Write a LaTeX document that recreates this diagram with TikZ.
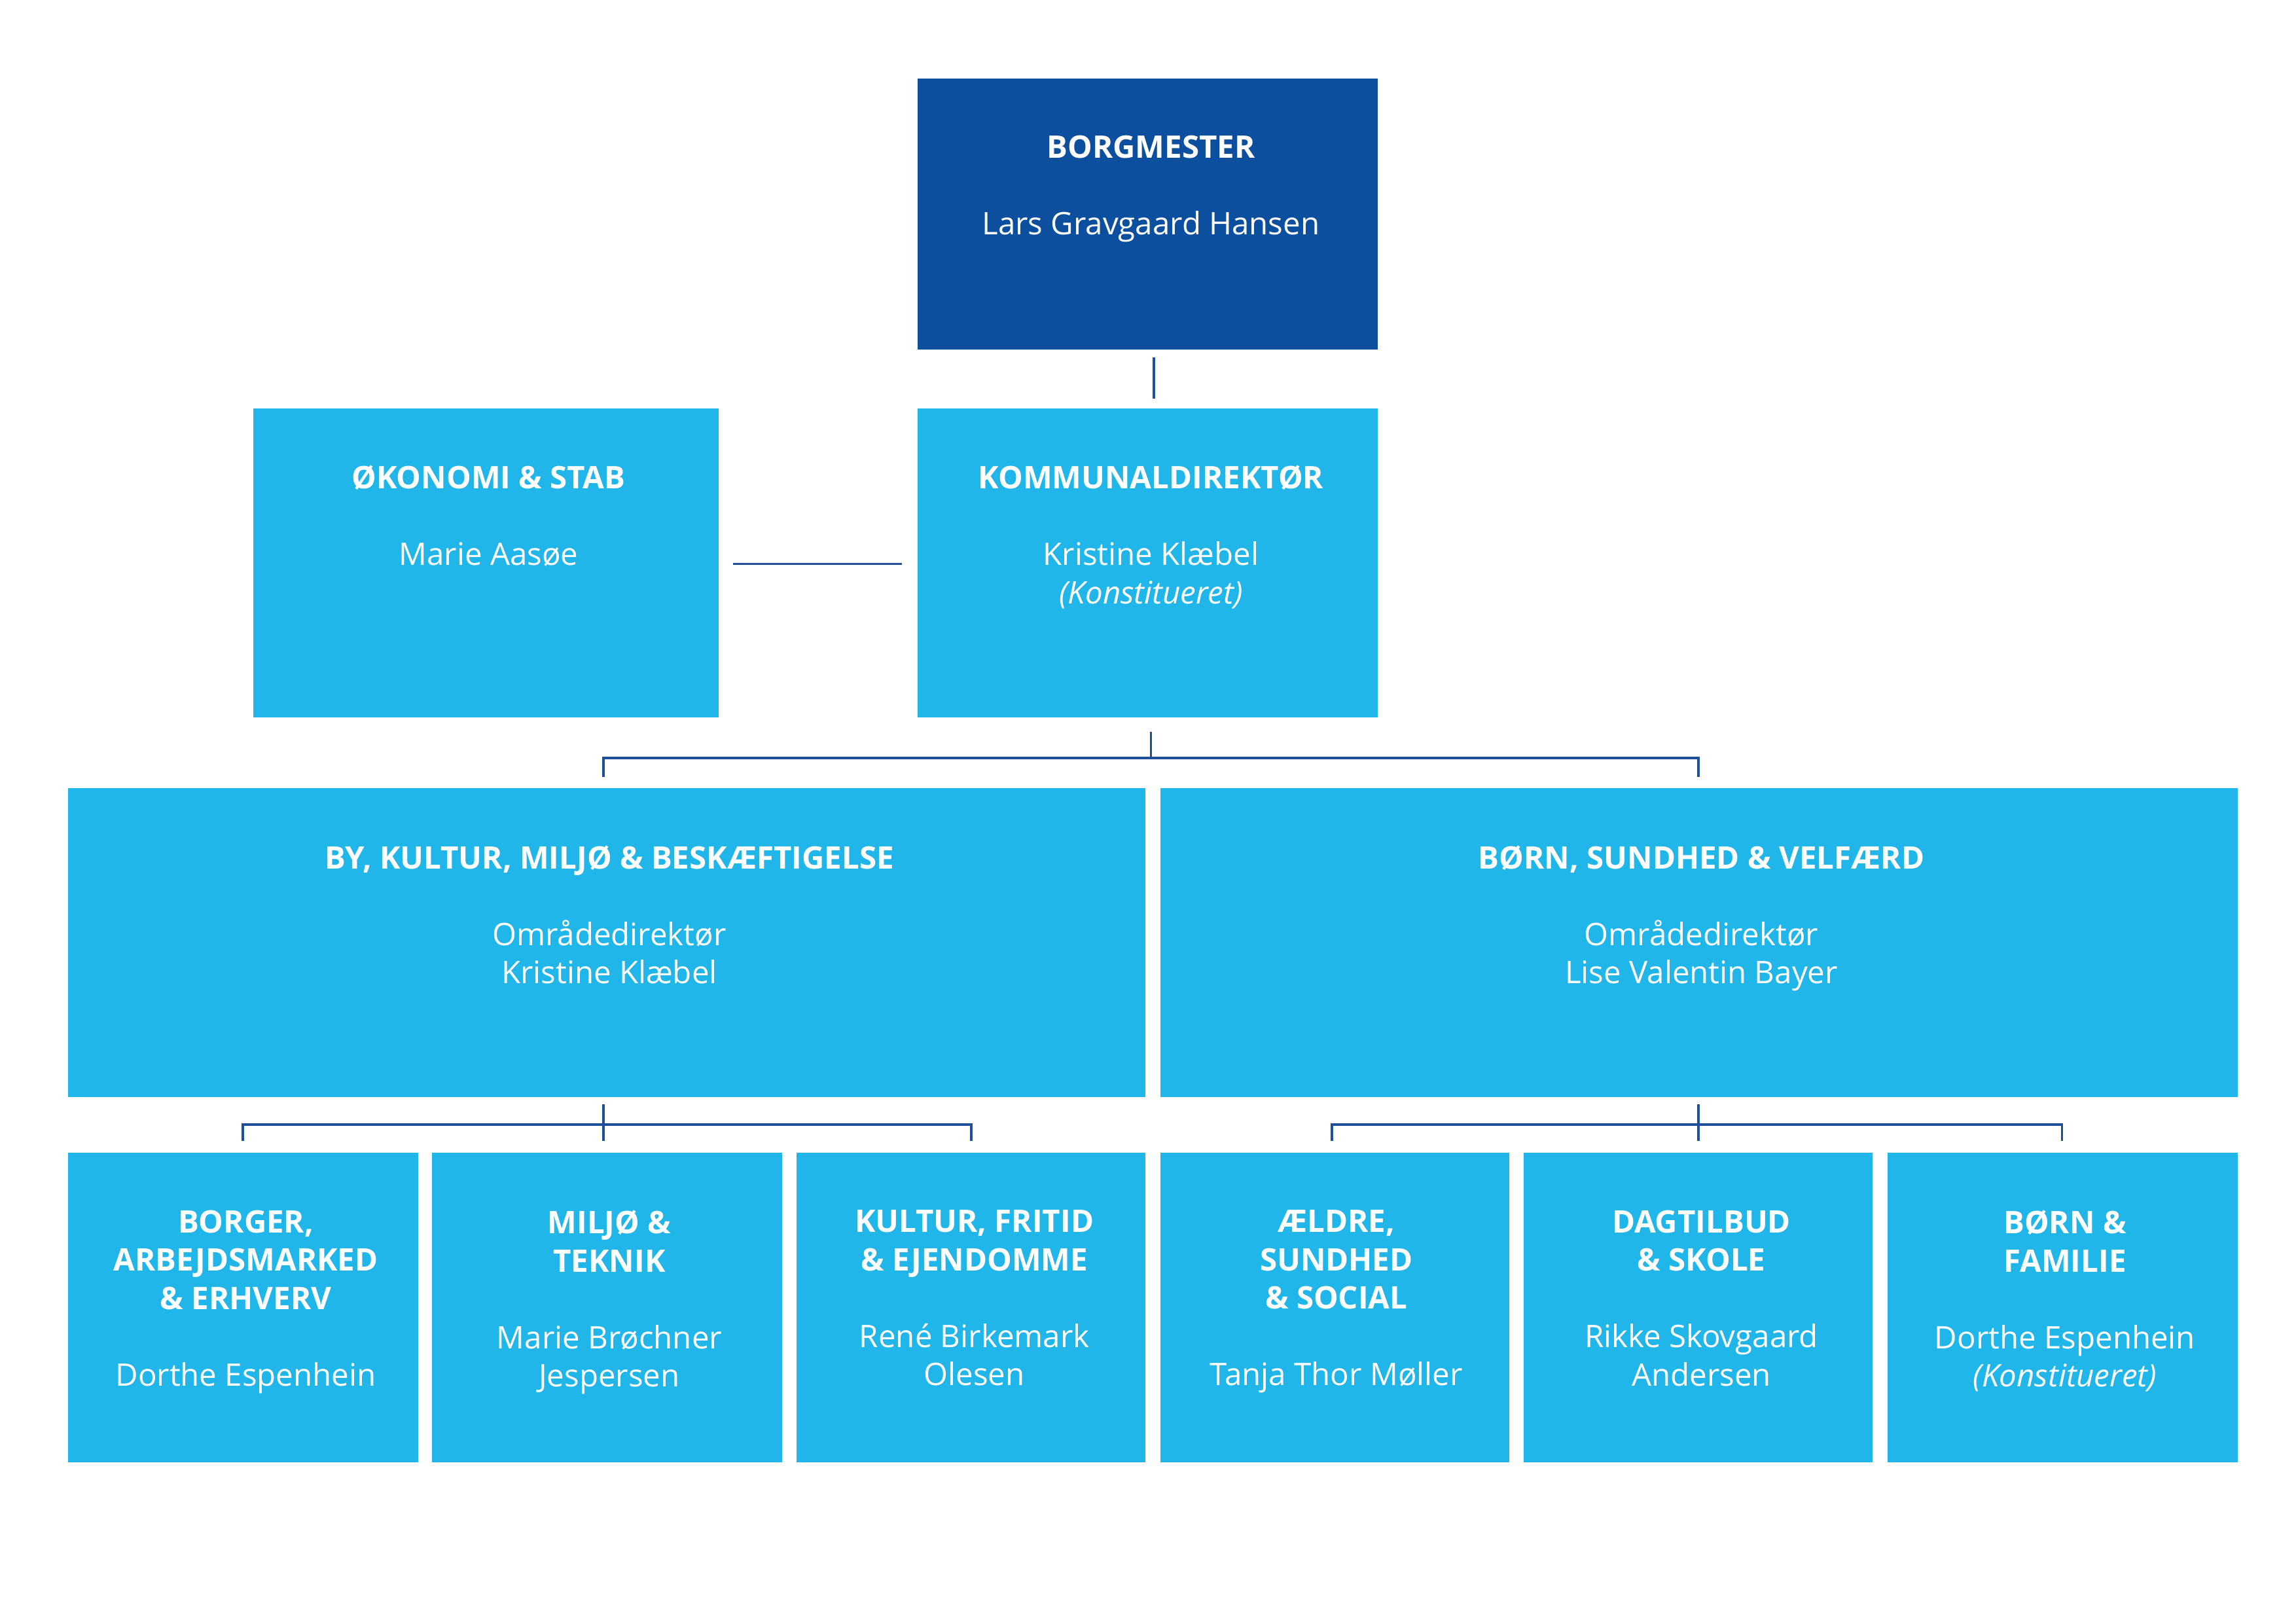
\documentclass[tikz,border=0pt]{standalone}
\usepackage{fontspec}
\setmainfont{Open Sans}
\definecolor{darkb}{HTML}{0C4F9E}
\definecolor{lightb}{HTML}{21B6E9}
\definecolor{linec}{HTML}{1F4E9A}
\begin{document}
\begin{tikzpicture}[x=0.025cm,y=-0.025cm,
  box/.style={fill=lightb,draw=none,inner sep=0,anchor=north west},
  txt/.style={text=white,align=center,anchor=north,inner sep=0,font=\fontsize{15}{18.5}\selectfont},
  conn/.style={draw=linec,line width=1.1pt}]
\useasboundingbox (0,0) rectangle (1560,1103);
\newcommand{\bx}[6]{%
  \node[box,fill=#6,minimum width={(#3-#2)*0.025cm},minimum height={(#5-#4)*0.025cm}] (#1) at (#2,#4) {};}
\bx{borg}{623}{936}{53}{237}{darkb}
\bx{komm}{623}{936}{277}{487}{lightb}
\bx{oko}{172}{488}{277}{487}{lightb}
\bx{by}{46}{778}{535}{745}{lightb}
\bx{born}{788}{1520}{535}{745}{lightb}
\bx{b1}{46}{284}{783}{993}{lightb}
\bx{b2}{293}{531}{783}{993}{lightb}
\bx{b3}{541}{778}{783}{993}{lightb}
\bx{b4}{788}{1025}{783}{993}{lightb}
\bx{b5}{1035}{1272}{783}{993}{lightb}
\bx{b6}{1282}{1520}{783}{993}{lightb}
\node[txt] (tborg) at (782,92) {\textbf{BORGMESTER}\\[\baselineskip]Lars Gravgaard Hansen};
\node[txt] (tkomm) at (782,316) {\textbf{KOMMUNALDIREKTØR}\\[\baselineskip]Kristine Klæbel\\\textit{(Konstitueret)}};
\node[txt] (toko) at (332,316) {\textbf{ØKONOMI \& STAB}\\[\baselineskip]Marie Aasøe};
\node[txt] (tby) at (414,574) {\textbf{BY, KULTUR, MILJØ \& BESKÆFTIGELSE}\\[\baselineskip]Områdedirektør\\Kristine Klæbel};
\node[txt] (tborn) at (1156,574) {\textbf{BØRN, SUNDHED \& VELFÆRD}\\[\baselineskip]Områdedirektør\\Lise Valentin Bayer};
\node[txt] (t1) at (167,822) {\textbf{BORGER,}\\\textbf{ARBEJDSMARKED}\\\textbf{\& ERHVERV}\\[\baselineskip]Dorthe Espenhein};
\node[txt] (t2) at (414,822) {\textbf{MILJØ \&}\\\textbf{TEKNIK}\\[\baselineskip]Marie Brøchner\\Jespersen};
\node[txt] (t3) at (662,822) {\textbf{KULTUR, FRITID}\\\textbf{\& EJENDOMME}\\[\baselineskip]René Birkemark\\Olesen};
\node[txt] (t4) at (908,822) {\textbf{ÆLDRE,}\\\textbf{SUNDHED}\\\textbf{\& SOCIAL}\\[\baselineskip]Tanja Thor Møller};
\node[txt] (t5) at (1156,822) {\textbf{DAGTILBUD}\\\textbf{\& SKOLE}\\[\baselineskip]Rikke Skovgaard\\Andersen};
\node[txt] (t6) at (1403,822) {\textbf{BØRN \&}\\\textbf{FAMILIE}\\[\baselineskip]Dorthe Espenhein\\\textit{(Konstitueret)}};
% connectors
\coordinate (k1) at (784,243); \coordinate (k2) at (784,271);
\draw[conn] (k1) -- (k2);
\coordinate (o1) at (498,383); \coordinate (o2) at (613,383);
\draw[conn] (o1) -- (o2);
\coordinate (a0) at (782,497); \coordinate (a1) at (782,515);
\coordinate (al) at (410,515); \coordinate (ar) at (1154,515);
\coordinate (all) at (410,528); \coordinate (arr) at (1154,528);
\draw[conn] (a0) -- (a1); \draw[conn] (all) -- (al) -- (ar) -- (arr);
\coordinate (l0) at (410,750); \coordinate (l1) at (410,775);
\coordinate (lh1) at (165,775); \coordinate (lh2) at (165,764); \coordinate (lh3) at (660,764); \coordinate (lh4) at (660,775);
\draw[conn] (l0) -- (l1); \draw[conn] (lh1) -- (lh2) -- (lh3) -- (lh4);
\coordinate (r0) at (1154,750); \coordinate (r1) at (1154,775);
\coordinate (rh1) at (905,775); \coordinate (rh2) at (905,764); \coordinate (rh3) at (1401,764); \coordinate (rh4) at (1401,775);
\draw[conn] (r0) -- (r1); \draw[conn] (rh1) -- (rh2) -- (rh3) -- (rh4);
\end{tikzpicture}
\end{document}
